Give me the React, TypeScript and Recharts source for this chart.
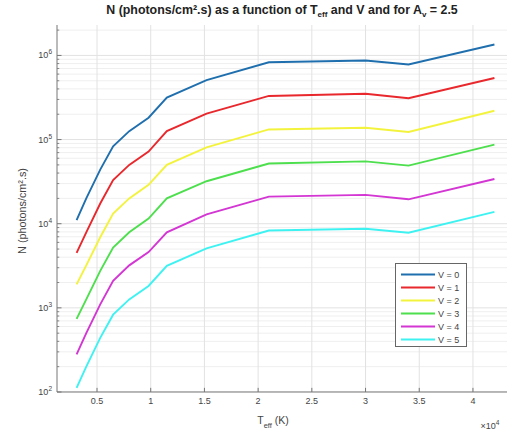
import React from 'react';
import { LineChart, Line, XAxis, YAxis, ReferenceLine } from 'recharts';

// Teff grid (K)
const teff = [3100, 4000, 5300, 6500, 8000, 9800, 11500, 15200, 21000, 30000, 34000, 42000];

// N (photons/cm².s) for each V magnitude
const nV0 = [11000, 20000, 44000, 83000, 126000, 182000, 316000, 510000, 830000, 870000, 780000, 1350000];
const nV1 = [4500, 7900, 17400, 33000, 50000, 72000, 126000, 204000, 330000, 350000, 310000, 540000];
const nV2 = [1900, 3200, 6900, 13200, 20000, 29000, 50000, 81000, 132000, 138000, 123000, 220000];
const nV3 = [740, 1260, 2750, 5200, 7900, 11500, 20000, 32000, 52000, 55000, 49000, 87000];
const nV4 = [280, 500, 1100, 2100, 3200, 4600, 7900, 12900, 21000, 22000, 19500, 34000];
const nV5 = [112, 200, 440, 830, 1260, 1820, 3160, 5100, 8300, 8700, 7800, 13800];

const seriesNames = ['V = 0', 'V = 1', 'V = 2', 'V = 3', 'V = 4', 'V = 5'];
const seriesColors = ['#1f6fae', '#e8282d', '#f3f33e', '#4ddf4d', '#d336d3', '#3ff2f2'];
const allSeries = [nV0, nV1, nV2, nV3, nV4, nV5];

const xTicks = [5000, 10000, 15000, 20000, 25000, 30000, 35000, 40000];
const yTicks = [1e2, 1e3, 1e4, 1e5, 1e6];

const X_MIN = 1275;
const X_MAX = 43170;
const Y_MIN = 100;
const Y_MAX = 2.3e6;

const rows = teff.map((t, i) => {
  const r: Record<string, number> = { T: t };
  allSeries.forEach((s, k) => { r['v' + k] = s[i]; });
  return r;
});

// minor decade values 2..9 x 10^d
const minorY: number[] = [];
for (let d = 2; d <= 6; d++) {
  for (let k = 2; k <= 9; k++) {
    const v = k * Math.pow(10, d);
    if (v < Y_MAX) minorY.push(v);
  }
}

const FONT = '"Liberation Sans", Arial, sans-serif';
const TXT = '#444';

function YTick(props: any) {
  const { x, y, payload } = props;
  const exp = Math.round(Math.log10(payload.value));
  return (
    <text x={x} y={y} dy={3} textAnchor="end" fontSize={9} fill={TXT} fontFamily={FONT}>
      10<tspan dy={-4} fontSize={6.5}>{exp}</tspan>
    </text>
  );
}

function XTick(props: any) {
  const { x, y, payload } = props;
  return (
    <text x={x} y={y} dy={8} textAnchor="middle" fontSize={9} fill={TXT} fontFamily={FONT}>
      {String(payload.value / 1e4)}
    </text>
  );
}

export default function App() {
  return (
    <div style={{ position: 'fixed', left: 0, top: 0, width: 510, height: 433, background: '#fff', fontFamily: FONT }}>
      <LineChart width={510} height={433} data={rows} margin={{ top: 25, right: 3, bottom: 0, left: 0 }}>
        {/* minor grid */}
        {minorY.map((v) => (
          <ReferenceLine key={'mg' + v} y={v} stroke="#efefef" strokeWidth={1} ifOverflow="hidden" />
        ))}
        {yTicks.map((v) => (
          <ReferenceLine key={'yg' + v} y={v} stroke="#e2e2e2" strokeWidth={1} ifOverflow="hidden" />
        ))}
        {xTicks.map((v) => (
          <ReferenceLine key={'xg' + v} x={v} stroke="#e2e2e2" strokeWidth={1} ifOverflow="hidden" />
        ))}
        <XAxis
          dataKey="T"
          type="number"
          domain={[X_MIN, X_MAX]}
          ticks={xTicks}
          allowDataOverflow
          height={41}
          tickSize={0}
          tickMargin={4}
          tickLine={false}
          tick={<XTick />}
          axisLine={{ stroke: '#777' }}
        />
        <YAxis
          type="number"
          scale="log"
          domain={[Y_MIN, Y_MAX]}
          ticks={yTicks}
          allowDataOverflow
          width={57}
          tickSize={0}
          tickMargin={5}
          tickLine={false}
          tick={<YTick />}
          axisLine={{ stroke: '#777' }}
        />
        {/* inward tick marks */}
        {xTicks.map((v) => (
          <ReferenceLine key={'xt' + v} segment={[{ x: v, y: Y_MIN }, { x: v, y: 112 }]} stroke="#777" ifOverflow="visible" />
        ))}
        {yTicks.map((v) => (
          <ReferenceLine key={'yt' + v} segment={[{ x: X_MIN, y: v }, { x: X_MIN + 420, y: v }]} stroke="#777" ifOverflow="visible" />
        ))}
        {minorY.map((v) => (
          <ReferenceLine key={'ymt' + v} segment={[{ x: X_MIN, y: v }, { x: X_MIN + 210, y: v }]} stroke="#888" ifOverflow="visible" />
        ))}
        {allSeries.map((_, k) => (
          <Line
            key={k}
            dataKey={'v' + k}
            type="linear"
            stroke={seriesColors[k]}
            strokeWidth={1.9}
            dot={false}
            isAnimationActive={false}
          />
        ))}
      </LineChart>

      {/* title */}
      <div style={{ position: 'absolute', left: 57, width: 450, top: 3, textAlign: 'center', fontSize: 12.4, fontWeight: 'bold', color: '#222', whiteSpace: 'nowrap' }}>
        N (photons/cm².s) as a function of T<sub style={{ fontSize: 8 }}>eff</sub> and V and for A<sub style={{ fontSize: 8 }}>v</sub> = 2.5
      </div>

      {/* y label */}
      <div style={{ position: 'absolute', left: 22, top: 211, transform: 'translate(-50%, -50%) rotate(-90deg)', fontSize: 10.8, color: TXT, whiteSpace: 'nowrap' }}>
        N (photons/cm².s)
      </div>

      {/* x label */}
      <div style={{ position: 'absolute', left: 273, top: 422, transform: 'translate(-50%, -50%)', fontSize: 10.5, color: TXT, whiteSpace: 'nowrap' }}>
        T<sub style={{ fontSize: 7.5 }}>eff</sub> (K)
      </div>
      <div style={{ position: 'absolute', left: 490, top: 425, transform: 'translate(-50%, -50%)', fontSize: 9, color: TXT, whiteSpace: 'nowrap' }}>
        ×10<sup style={{ fontSize: 6.5 }}>4</sup>
      </div>

      {/* legend */}
      <div style={{ position: 'absolute', left: 395, top: 263, width: 72, height: 84, border: '1px solid #666', background: '#fff', boxSizing: 'border-box' }}>
        {seriesNames.map((n, k) => (
          <div key={n} style={{ position: 'absolute', left: 4, top: 4 + k * 13, height: 13, display: 'flex', alignItems: 'center' }}>
            <svg width={36} height={13}>
              <line x1={1} x2={35} y1={6.5} y2={6.5} stroke={seriesColors[k]} strokeWidth={1.9} />
            </svg>
            <span style={{ fontSize: 9, color: TXT, marginLeft: 2 }}>{n}</span>
          </div>
        ))}
      </div>
    </div>
  );
}
